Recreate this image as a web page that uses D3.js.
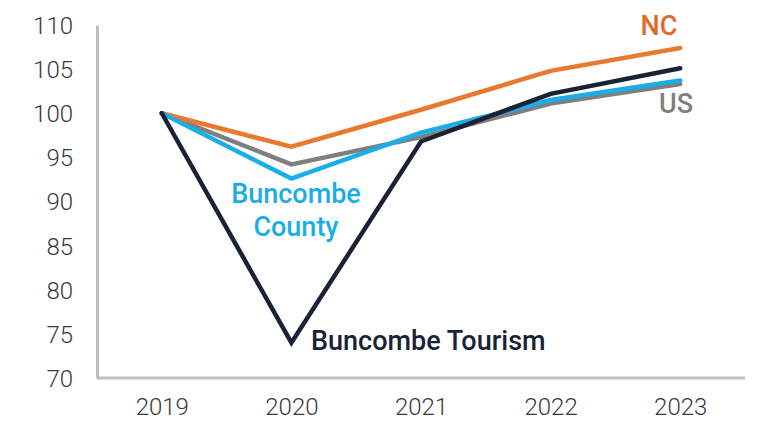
<!DOCTYPE html>
<html><head><meta charset="utf-8">
<script src="https://cdn.jsdelivr.net/npm/d3@7"></script>
<style>body{margin:0;background:#fff}svg{display:block}text{font-family:Roboto,"Open Sans",sans-serif}</style>
</head><body><svg id="c" width="758" height="423"></svg>
<script>
const years = ["2019","2020","2021","2022","2023"];
const yTicks = [70,75,80,85,90,95,100,105,110];
const usValues = [100, 94.2, 97.3, 101.1, 103.3];
const ncValues = [100, 96.2, 100.4, 104.8, 107.4];
const countyValues = [100, 92.6, 97.8, 101.5, 103.7];
const tourismValues = [100, 74.0, 96.8, 102.2, 105.1];
const seriesNames = ["US","NC","Buncombe County","Buncombe Tourism"];
const seriesColors = ["#7f7f7f","#e8792f","#1aaee8","#1a2236"];

const svg = d3.select("#c");
const x = d3.scalePoint().domain(years).range([97,745]).padding(0.5);
const y = d3.scaleLinear().domain([70,110]).range([378,25]);

const axisColor = "#bfbfbf";
// y axis
const ya = svg.append("g").attr("transform","translate(97,0)")
  .call(d3.axisLeft(y).tickValues(yTicks).tickSize(0).tickPadding(24));
ya.select(".domain").attr("stroke",axisColor).attr("stroke-width",3);
ya.selectAll("text").attr("font-size",24).attr("font-weight",300).attr("fill","#3a3a3a").attr("dy","0.35em")
  .style("font-family","Roboto, sans-serif");
// x axis
const xa = svg.append("g").attr("transform","translate(0,378)")
  .call(d3.axisBottom(x).tickSize(0).tickPadding(20));
xa.select(".domain").attr("d","M97,0H745").attr("stroke",axisColor).attr("stroke-width",3);
xa.selectAll("text").attr("font-size",24).attr("font-weight",300).attr("fill","#3a3a3a").attr("dy","0.71em")
  .style("font-family","Roboto, sans-serif");

const line = d3.line().x((d,i)=>x(years[i])).y(d=>y(d));
const allValues = [usValues, ncValues, countyValues, tourismValues];
allValues.forEach((vals,k)=>{
  svg.append("path").datum(vals).attr("d",line)
    .attr("fill","none").attr("stroke",seriesColors[k]).attr("stroke-width",4.5)
    .attr("stroke-linejoin","miter").attr("stroke-linecap","round");
});

function label(txt, xx, yy, color, anchor){
  svg.append("text").attr("x",xx).attr("y",yy).attr("fill",color)
    .attr("font-size",27).attr("font-weight",500).attr("text-anchor",anchor||"start").text(txt);
}
label("NC", 659, 35, "#e06a2a", "middle");
label("US", 676, 113, "#7f7f7f", "middle");
label("Buncombe", 296, 203, "#1aaee8", "middle");
label("County", 296, 236, "#1aaee8", "middle");
label("Buncombe Tourism", 311, 350, "#1a2236", "start");
</script></body></html>
